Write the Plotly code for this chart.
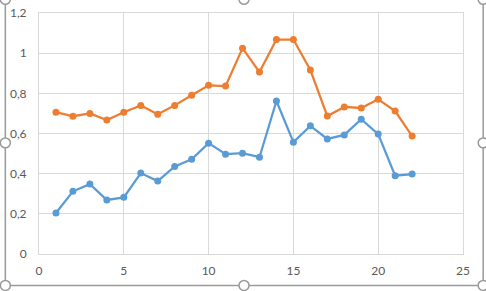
import plotly.graph_objects as go

# ---- data ----
x_vals = list(range(1, 23))
orange_vals = [0.706, 0.686, 0.700, 0.667, 0.706, 0.740, 0.696, 0.740, 0.790, 0.840,
               0.836, 1.025, 0.906, 1.068, 1.068, 0.916, 0.687, 0.732, 0.727, 0.770,
               0.712, 0.587]
blue_vals = [0.204, 0.312, 0.348, 0.269, 0.282, 0.403, 0.363, 0.436, 0.472, 0.552,
             0.497, 0.502, 0.482, 0.762, 0.557, 0.638, 0.573, 0.593, 0.671, 0.597,
             0.390, 0.398]
y_ticks = [0, 0.2, 0.4, 0.6, 0.8, 1.0, 1.2]
y_tick_labels = ["0", "0,2", "0,4", "0,6", "0,8", "1", "1,2"]
x_ticks = [0, 5, 10, 15, 20, 25]
x_tick_labels = ["0", "5", "10", "15", "20", "25"]

W, H = 486, 291
L, R, T, B = 38.7, 22.7, 12.7, 36.5
PW, PH = W - L - R, H - T - B

BLUE = "#5B9BD5"
ORANGE = "#ED7D31"
GRID = "#D9D9D9"
TXT = "#595959"
FRAME = "#9A9A9A"

fig = go.Figure()
fig.add_trace(go.Scatter(x=x_vals, y=blue_vals, mode="lines+markers",
                         line=dict(color=BLUE, width=2.25),
                         marker=dict(color=BLUE, size=7), showlegend=False,
                         cliponaxis=False))
fig.add_trace(go.Scatter(x=x_vals, y=orange_vals, mode="lines+markers",
                         line=dict(color=ORANGE, width=2.25),
                         marker=dict(color=ORANGE, size=7), showlegend=False,
                         cliponaxis=False))


def px2paper(px, py):
    return (px - L) / PW, 1 - (py - T) / PH


shapes = []
# selection frame lines
for (x0, y0, x1, y1) in [(5, -2, 5, 286), (5, 286, 483.5, 286), (483.5, -2, 483.5, 286)]:
    a0, b0 = px2paper(x0, y0)
    a1, b1 = px2paper(x1, y1)
    shapes.append(dict(type="line", xref="paper", yref="paper", x0=a0, y0=b0, x1=a1, y1=b1,
                       line=dict(color=FRAME, width=1.5), layer="above"))
# handles
for (cx, cy) in [(5, -1), (244, -1), (483.5, -1), (5, 143), (483.5, 143),
                 (5, 286), (244, 286), (483.5, 286)]:
    a0, b0 = px2paper(cx - 5, cy - 5)
    a1, b1 = px2paper(cx + 5, cy + 5)
    shapes.append(dict(type="circle", xref="paper", yref="paper", x0=a0, y0=b1, x1=a1, y1=b0,
                       line=dict(color=FRAME, width=1.5), fillcolor="white", layer="above"))

fig.update_layout(
    width=W, height=H,
    margin=dict(l=L, r=R, t=T, b=B, autoexpand=False),
    paper_bgcolor="white", plot_bgcolor="white",
    font=dict(family="Lato, Open Sans, sans-serif", size=12, color=TXT),
    separators=", ",
    shapes=shapes,
    xaxis=dict(range=[0, 25], tickvals=x_ticks, ticktext=x_tick_labels,
               showgrid=True, gridcolor=GRID, gridwidth=1,
               zeroline=True, zerolinecolor=GRID, zerolinewidth=1,
               showline=True, mirror=True, linecolor=GRID, linewidth=1,
               ticks="", ticklabelstandoff=6),
    yaxis=dict(range=[0, 1.2], tickvals=y_ticks, ticktext=y_tick_labels,
               showgrid=True, gridcolor=GRID, gridwidth=1,
               zeroline=True, zerolinecolor=GRID, zerolinewidth=1,
               showline=True, mirror=True, linecolor=GRID, linewidth=1,
               ticks="", ticklabelstandoff=9),
)

fig.write_html("out.html")
